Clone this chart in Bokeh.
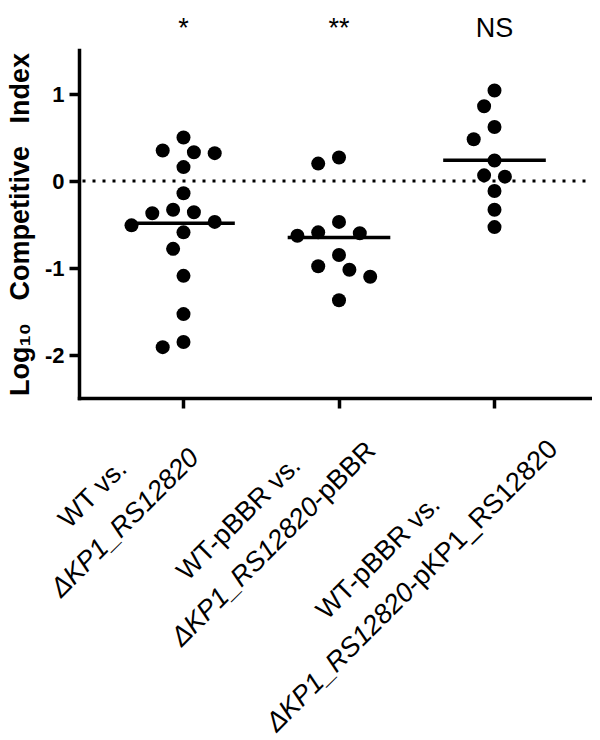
from math import pi, cos, sin
from bokeh.plotting import figure
from bokeh.models import Range1d, FixedTicker, LinearAxis
from bokeh.core.properties import value
from bokeh.embed import file_html
from bokeh.resources import INLINE

# ---------------- data ----------------
categories = [0, 1, 2]
wt_vs_mutant = [0.50, 0.35, 0.33, 0.32, 0.16, -0.14, -0.33, -0.36, -0.37,
                -0.47, -0.51, -0.59, -0.78, -1.09, -1.53, -1.85, -1.91]
pbbr_vs_mutant_pbbr = [0.27, 0.20, -0.47, -0.59, -0.60, -0.63, -0.85, -0.98,
                       -1.02, -1.10, -1.37]
pbbr_vs_complemented = [1.04, 0.86, 0.62, 0.48, 0.235, 0.065, 0.05, -0.115,
                        -0.33, -0.53]
significance = ["*", "**", "NS"]
y_ticks = [-2, -1, 0, 1]
y_tick_labels = ["-2", "-1", "0", "1"]
# each label line: (italic part, upright part)
label_lines = [
    [("", "WT vs."), ("ΔKP1_RS12820", "")],
    [("", "WT-pBBR vs."), ("ΔKP1_RS12820", "-pBBR")],
    [("", "WT-pBBR vs."), ("ΔKP1_RS12820", "-pKP1_RS12820")],
]
y_title = "Log\u2081\u2080\u00a0\u00a0\u00a0Competitive\u00a0\u00a0\u00a0Index"

# ---------------- layout (pixels) ----------------
W, H = 592, 738
AX_LEFT_PX = 79        # y axis line
AX_TOP_PX = 50         # top of y axis
AX_BOTTOM_PX = 398     # x axis line
TICK0_PX = 183         # first category
PX_X = 155.5           # px per category
Y_LO, Y_HI = -2.5, 1.5
PX_Y = (AX_BOTTOM_PX - AX_TOP_PX) / (Y_HI - Y_LO)
ZERO_PX = AX_TOP_PX + Y_HI * PX_Y


def dx(px):
    return (px - TICK0_PX) / PX_X


def dy(py):
    return (ZERO_PX - py) / PX_Y


X_LO = dx(AX_LEFT_PX)
X_HI = dx(W)
FONT = "Liberation Sans"
FS = 27

p = figure(width=W, height=H, output_backend="svg", toolbar_location=None,
           x_range=Range1d(dx(0), dx(W)), y_range=Range1d(dy(H), dy(0)),
           x_axis_type=None, y_axis_type=None,
           min_border_left=0, min_border_right=0, min_border_top=0,
           min_border_bottom=0)
p.outline_line_color = None
p.background_fill_color = "white"
p.border_fill_color = "white"

yax = LinearAxis(fixed_location=X_LO, bounds=(Y_LO, Y_HI),
                 ticker=FixedTicker(ticks=y_ticks))
yax.major_label_overrides = {t: l for t, l in zip(y_ticks, y_tick_labels)}
yax.major_label_text_font = FONT
yax.major_label_text_font_style = "bold"
yax.major_label_text_font_size = "22px"
yax.major_label_text_color = "black"
yax.major_label_standoff = 5

xax = LinearAxis(fixed_location=Y_LO, bounds=(X_LO, X_HI),
                 ticker=FixedTicker(ticks=categories))
xax.major_label_overrides = {c: "" for c in categories}
xax.major_label_text_font_size = "1px"

for ax in (xax, yax):
    ax.axis_line_width = 3.5
    ax.axis_line_color = "black"
    ax.axis_line_cap = "square"
    ax.major_tick_line_width = 3.5
    ax.major_tick_line_color = "black"
    ax.major_tick_out = 10
    ax.major_tick_in = 0
    ax.minor_tick_line_color = None
p.add_layout(yax, "left")
p.add_layout(xax, "below")

# y axis title
p.text(x=[dx(19)], y=[(Y_LO + Y_HI) / 2], text=[y_title], angle=pi / 2,
       text_font=value(FONT), text_font_size=value(f"{FS}px"),
       text_font_style="bold", text_align="center",
       text_baseline="alphabetic", text_color="black")

# dotted zero line
p.segment(x0=[X_LO + 3 / PX_X], y0=[0], x1=[X_HI], y1=[0], line_color="black",
          line_width=3, line_dash="3 7")


def swarm(vals, step=10.4, dmin=17.0):
    placed, offs = [], []
    order = [0] + [s * k for k in range(1, 12) for s in (-1, 1)]
    for v in vals:
        y = v * PX_Y
        x = 0.0
        for k in order:
            x = k * step
            if all((x - a) ** 2 + (y - b) ** 2 >= dmin ** 2 for a, b in placed):
                break
        placed.append((x, y))
        offs.append(x / PX_X)
    return offs


groups = [wt_vs_mutant, pbbr_vs_mutant_pbbr, pbbr_vs_complemented]
for c, vals in zip(categories, groups):
    offs = swarm(vals)
    p.scatter([c + o for o in offs], vals, size=14, fill_color="black",
              line_color="black", line_width=0)
    m = sum(vals) / len(vals)
    p.segment(x0=[c - 0.33], y0=[m], x1=[c + 0.33], y1=[m],
              line_color="black", line_width=3.5)

# significance marks above the plot
p.text(x=categories, y=[dy(27)] * len(categories), text=significance,
       text_font=value(FONT), text_font_size=value(f"{FS}px"),
       text_align="center", text_baseline="alphabetic", text_color="black")

# rotated category labels: line centres as px offsets from each tick base
line_centres = [[(-91, 95), (-59, 124)],
                [(-100, 119), (-66, 145)],
                [(-116, 158), (-83, 187)]]
WID = {"W": .944, "T": .611, " ": .278, "v": .5, "s": .5, ".": .278, "-": .333,
       "p": .556, "B": .667, "R": .722, "K": .667, "P": .667, "_": .556,
       "S": .667, "Δ": .668}


def tw(t):
    return sum(WID.get(ch, .556) for ch in t) * FS


ang = pi / 4
ux, uy = cos(ang), sin(ang)
for c, lines, cents in zip(categories, label_lines, line_centres):
    for (it, up), (ox, oy) in zip(lines, cents):
        total = tw(it) + tw(up)
        shift = tw(it) - total / 2
        x = c + (ox + shift * ux) / PX_X
        y = Y_LO - (oy - shift * uy) / PX_Y
        if it:
            p.text(x=[x], y=[y], text=[it], angle=ang, text_font=value(FONT),
                   text_font_size=value(f"{FS}px"), text_font_style="italic",
                   text_align="right", text_baseline="middle",
                   text_color="black")
        if up:
            p.text(x=[x], y=[y], text=[up], angle=ang, text_font=value(FONT),
                   text_font_size=value(f"{FS}px"), text_font_style="normal",
                   text_align="left", text_baseline="middle",
                   text_color="black")

open("out.html", "w").write(file_html(p, INLINE))
